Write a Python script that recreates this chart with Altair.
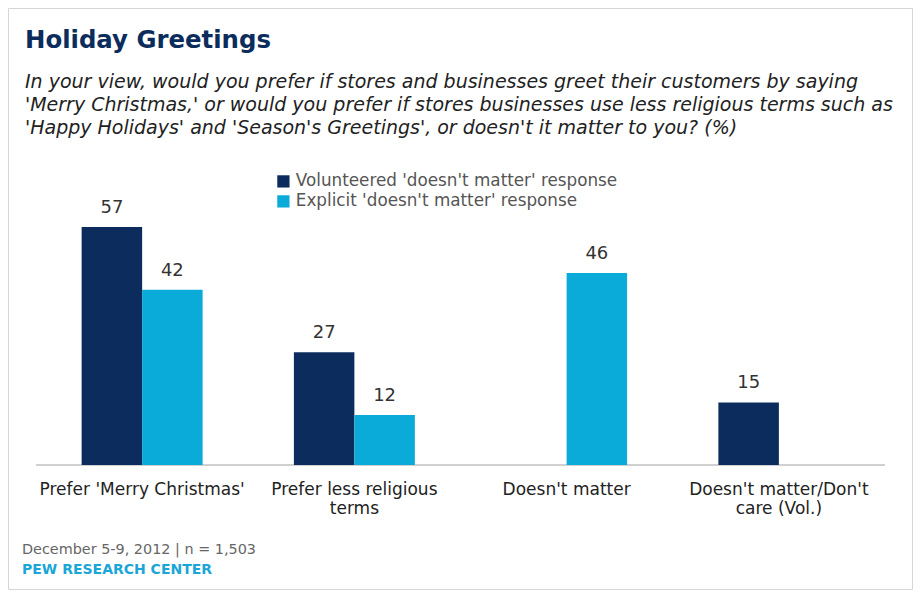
import altair as alt
import pandas as pd

categories = ["Prefer 'Merry Christmas'", "Prefer less religious terms", "Doesn't matter", "Doesn't matter/Don't care (Vol.)"]
category_labels = ["Prefer 'Merry Christmas'", "Prefer less religious\nterms", "Doesn't matter", "Doesn't matter/Don't\ncare (Vol.)"]
series = ["Volunteered 'doesn't matter' response", "Explicit 'doesn't matter' response"]
volunteered = [57, 27, None, 15]
explicit = [42, 12, 46, None]
colors = ["#0b2c5c", "#0aabd9"]

title_text = "Holiday Greetings"
subtitle_lines = [
    "In your view, would you prefer if stores and businesses greet their customers by saying",
    "'Merry Christmas,' or would you prefer if stores businesses use less religious terms such as",
    "'Happy Holidays' and 'Season's Greetings', or doesn't it matter to you? (%)",
]
footer_note = "December 5-9, 2012 | n = 1,503"
footer_source = "PEW RESEARCH CENTER"

rows = []
for i, c in enumerate(categories):
    for s, vals in zip(series, [volunteered, explicit]):
        rows.append({"category": c, "series": s, "value": vals[i]})
df = pd.DataFrame(rows)
lab_df = pd.DataFrame({"category": categories, "label": category_labels})

# plot-area origin on page: (36, 214.5); svg origin on page: (8, 8)
OX, OY = 36, 214.5
W, H = 849, 250.5

xscale = alt.Scale(domain=categories, paddingInner=0.43, paddingOuter=0.215)
yscale = alt.Scale(domain=[0, 60])
cscale = alt.Scale(domain=series, range=colors)
offscale = alt.Scale(domain=series, paddingInner=0, paddingOuter=0)

bars = alt.Chart(df).mark_bar().encode(
    x=alt.X("category:N", scale=xscale, sort=categories, axis=None),
    xOffset=alt.XOffset("series:N", sort=series, scale=offscale),
    y=alt.Y("value:Q", scale=yscale, axis=None),
    color=alt.Color("series:N", scale=cscale, sort=series, legend=alt.Legend(
        title=None, orient="none", legendX=275 - OX, legendY=173 - OY,
        symbolType="square", symbolSize=150, symbolStrokeWidth=0,
        labelFontSize=16.8, labelColor="#555555", labelFont="DejaVu Sans",
        labelLimit=0, rowPadding=2, labelOffset=4, symbolOffset=0, padding=0,
    )),
).transform_filter("isValid(datum.value)")

values = alt.Chart(df).mark_text(
    baseline="alphabetic", dy=-14, fontSize=18, color="#333333", font="DejaVu Sans"
).encode(
    x=alt.X("category:N", scale=xscale, sort=categories),
    xOffset=alt.XOffset("series:N", sort=series, scale=offscale),
    y=alt.Y("value:Q", scale=yscale),
    text=alt.Text("value:Q"),
).transform_filter("isValid(datum.value)")

baseline_rule = alt.Chart(df).mark_rule(color="#d0d0d0", strokeWidth=1).encode(
    x=alt.value(0), x2=alt.value(W), y=alt.value(H)
)

cat_labels = alt.Chart(lab_df).mark_text(
    baseline="alphabetic", fontSize=17, color="#222222", font="DejaVu Sans",
    lineBreak="\n", lineHeight=19, align="center"
).encode(
    x=alt.X("category:N", scale=xscale, sort=categories),
    y=alt.value(495 - OY),
    text="label:N",
)

def txt(text, px, py, **kw):
    return alt.Chart(pd.DataFrame({"t": [text]})).mark_text(
        align="left", baseline="alphabetic", **kw
    ).encode(x=alt.value(px - OX), y=alt.value(py - OY), text="t:N")

border = alt.Chart(pd.DataFrame({"a": [0]})).mark_rect(
    fill="transparent", stroke="#d6d6d6", strokeWidth=1
).encode(
    x=alt.value(8.5 - OX), x2=alt.value(912.5 - OX),
    y=alt.value(8.5 - OY), y2=alt.value(589.5 - OY),
)

layers = [border, baseline_rule, bars, values, cat_labels,
          txt(title_text, 25, 48, fontSize=24.4, fontWeight="bold", color="#0b2c5c", font="DejaVu Sans")]
for i, line in enumerate(subtitle_lines):
    layers.append(txt(line, 25, 88 + 23 * i, fontSize=19, fontStyle="italic", color="#222222", font="DejaVu Sans"))
layers.append(txt(footer_note, 22, 554, fontSize=14.4, color="#666666", font="DejaVu Sans"))
layers.append(txt(footer_source, 22, 574, fontSize=14, fontWeight="bold", color="#1aa6d6", font="DejaVu Sans"))

chart = alt.layer(*layers).properties(
    width=W, height=H,
    autosize=alt.AutoSizeParams(type="none"),
    padding={"left": OX - 8, "top": OY - 8, "right": 906 - (OX - 8) - W, "bottom": 583 - (OY - 8) - H},
).configure(
    background="white",
    view=alt.ViewConfig(strokeWidth=0, stroke="transparent"),
)

chart.save("out.html", embed_options={"renderer": "svg", "actions": False})
